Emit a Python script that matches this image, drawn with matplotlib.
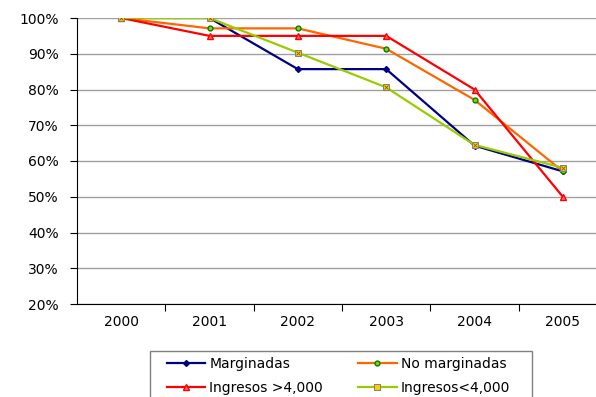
import matplotlib
matplotlib.use("Agg")
import matplotlib.pyplot as plt
from matplotlib.patches import Rectangle
from matplotlib.ticker import FuncFormatter, FixedLocator, NullFormatter

years = ["2000", "2001", "2002", "2003", "2004", "2005"]
marginadas = [100, 100, 85.7, 85.7, 64.3, 57.1]
no_marginadas = [100, 97.1, 97.1, 91.4, 77.1, 57.1]
ingresos_mas = [100, 95, 95, 95, 80, 50]
ingresos_menos = [100, 100, 90.3, 80.6, 64.5, 58.1]
y_ticks = [20, 30, 40, 50, 60, 70, 80, 90, 100]

plt.rcParams['font.family'] = ['DejaVu Sans']
W, H = 596, 397
fig = plt.figure(figsize=(W / 100, H / 100), dpi=100)
ax = fig.add_axes([77 / W, (H - 304) / H, 530 / W, 286 / H])

x = list(range(len(years)))
l1, = ax.plot(x, marginadas, color='#000080', lw=1.6, marker='D', ms=3,
              mfc='#000080', mec='#000080', label='Marginadas', zorder=3)
l2, = ax.plot(x, no_marginadas, color='#FF6600', lw=1.6, marker='o', ms=3.5,
              mfc='#99CC00', mec='#008000', mew=1.0, label='No marginadas', zorder=3)
l3, = ax.plot(x, ingresos_mas, color='#FF0000', lw=1.6, marker='^', ms=4,
              mfc='#FF6666', mec='#FF0000', label='Ingresos >4,000', zorder=3)
l4, = ax.plot(x, ingresos_menos, color='#99CC00', lw=1.6, marker='s', ms=4.5,
              mfc='#FFCC00', mec='#808080', mew=0.7, label='Ingresos<4,000', zorder=4)
ax.plot(x, ingresos_menos, ls='none', marker='x', ms=3, mec='#806000', mew=0.6, zorder=5)

ax.set_xlim(-0.5, len(years) - 0.5)
ax.set_ylim(20, 100)
ax.set_yticks(y_ticks)
ax.yaxis.set_major_formatter(FuncFormatter(lambda v, p: f"{int(v)}%"))
ax.grid(axis='y', color='#A0A0A0', lw=1.0)
ax.set_axisbelow(True)

ax.xaxis.set_major_locator(FixedLocator([i + 0.5 for i in range(len(years) - 1)]))
ax.xaxis.set_major_formatter(NullFormatter())
ax.xaxis.set_minor_locator(FixedLocator(x))
ax.set_xticklabels(years, minor=True)
ax.tick_params(axis='x', which='minor', length=0, pad=8, labelsize=10, colors='black')
ax.tick_params(axis='x', which='major', length=5, direction='out', color='black')
ax.tick_params(axis='y', length=5, direction='out', labelsize=10, pad=8)

for s in ['top', 'right']:
    ax.spines[s].set_visible(False)
ax.spines['left'].set_color('black')
ax.spines['bottom'].set_color('black')

fig.patches.append(Rectangle((150 / W, 1 - 400 / H), 382 / W, 49 / H,
                             transform=fig.transFigure, fill=False,
                             edgecolor='#808080', lw=1.0))
leg = fig.legend(handles=[l1, l3, l2, l4], loc='upper left',
                 bbox_to_anchor=(164 / W, 1 - 354 / H), ncol=2, frameon=False,
                 fontsize=10, handlelength=2.75, handletextpad=0.3,
                 columnspacing=2.55, labelspacing=0.75, borderpad=0.2,
                 borderaxespad=0)

fig.savefig("out.png", dpi=100)
